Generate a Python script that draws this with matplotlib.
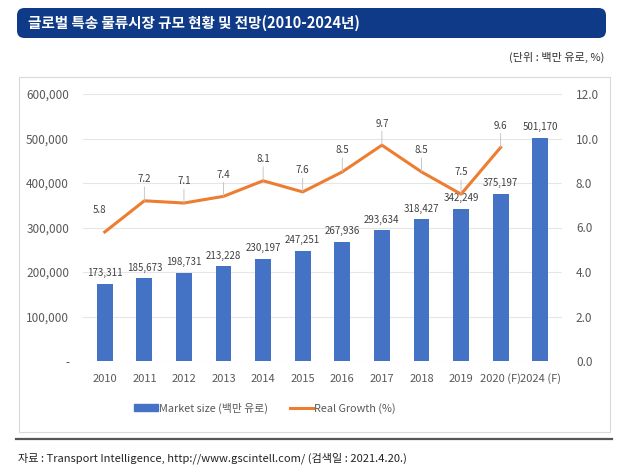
import matplotlib
matplotlib.use("Agg")
import matplotlib.pyplot as plt
from matplotlib.patches import FancyBboxPatch, Rectangle
from matplotlib.lines import Line2D

plt.rcParams['font.family'] = ['Noto Sans CJK KR', 'DejaVu Sans']

years = ['2010', '2011', '2012', '2013', '2014', '2015', '2016', '2017',
         '2018', '2019', '2020 (F)', '2024 (F)']
market_size = [173311, 185673, 198731, 213228, 230197, 247251, 267936,
               293634, 318427, 342249, 375197, 501170]
growth = [5.8, 7.2, 7.1, 7.4, 8.1, 7.6, 8.5, 9.7, 8.5, 7.5, 9.6]
left_ticks = [0, 100000, 200000, 300000, 400000, 500000, 600000]
left_labels = ['-', '100,000', '200,000', '300,000', '400,000', '500,000', '600,000']
right_ticks = [0, 2, 4, 6, 8, 10, 12]

title = '글로벌 특송 물류시장 규모 현황 및 전망(2010-2024년)'
unit = '(단위 : 백만 유로, %)'
source = '자료 : Transport Intelligence, http://www.gscintell.com/ (검색일 : 2021.4.20.)'

W, H = 619, 474
fig = plt.figure(figsize=(W / 100, H / 100), dpi=100)
fig.patch.set_facecolor('white')

def fx(px):
    return px / W

def fy(py):
    return 1 - py / H

# title bar
bar = FancyBboxPatch((fx(17), fy(38)), fx(606) - fx(17), fy(8) - fy(38),
                     boxstyle="round,pad=0,rounding_size=0.012",
                     transform=fig.transFigure, facecolor='#0F3A87',
                     edgecolor='none', zorder=-5, mutation_aspect=W / H)
fig.patches.append(bar)
fig.text(fx(28), fy(23), title, color='white', fontsize=10.5, fontweight='bold',
         va='center', ha='left')

fig.text(fx(604), fy(57), unit, color='#333333', fontsize=8, va='center', ha='right')

# chart frame
frame = Rectangle((fx(19), fy(432)), fx(610) - fx(19), fy(77) - fy(432),
                  transform=fig.transFigure, facecolor='white',
                  edgecolor='#D9D9D9', linewidth=0.8, zorder=-5)
fig.patches.append(frame)

# source line & text
fig.add_artist(Line2D([fx(16), fx(612)], [fy(439), fy(439)], transform=fig.transFigure,
                      color='#555555', linewidth=1.6))
fig.text(fx(18), fy(458), source, color='#222222', fontsize=8, va='center', ha='left')

ax = fig.add_axes([fx(83), fy(361), fx(562) - fx(83), fy(94) - fy(361)])
ax.set_zorder(2)
ax.set_facecolor('none')
x = list(range(len(years)))
ax.bar(x, market_size, width=0.4, color='#4472C4', zorder=2)
ax.set_ylim(0, 600000)
ax.set_xlim(-0.55, len(years) - 0.45)
ax.set_yticks(left_ticks)
ax.set_yticklabels(left_labels)
ax.set_xticks(x)
ax.set_xticklabels(years)
ax.grid(axis='y', color='#E6E6E6', linewidth=0.8, zorder=0)
ax.set_axisbelow(True)
for s in ax.spines.values():
    s.set_visible(False)
ax.tick_params(axis='both', length=0, colors='#595959', labelsize=8.5)
ax.tick_params(axis='x', pad=9, labelsize=8)
ax.tick_params(axis='y', pad=10)

for xi, v in zip(x, market_size):
    ax.annotate(f'{v:,}', (xi, v), xytext=(0, 4), textcoords='offset points',
                ha='center', va='bottom', fontsize=7, color='#404040', zorder=5)

ax2 = ax.twinx()
ax2.set_ylim(0, 12)
ax2.set_yticks(right_ticks)
ax2.set_yticklabels([f'{t:.1f}' for t in right_ticks])
for s in ax2.spines.values():
    s.set_visible(False)
ax2.tick_params(axis='y', length=0, colors='#595959', labelsize=8.5, pad=10)
ax2.plot(x[:len(growth)], growth, color='#ED7D31', linewidth=2.2, zorder=3)

for i, g in enumerate(growth):
    if i == 0:
        ax2.annotate(f'{g}', (i, g), xytext=(-4, 12), textcoords='offset points',
                     ha='center', va='bottom', fontsize=7, color='#404040')
    else:
        ax2.annotate(f'{g}', (i, g), xytext=(0, 12), textcoords='offset points',
                     ha='center', va='bottom', fontsize=7, color='#404040',
                     arrowprops=dict(arrowstyle='-', color='#BFBFBF', lw=0.6,
                                     shrinkA=0, shrinkB=0))

handles = [Rectangle((0, 0), 1, 1, color='#4472C4'),
           Line2D([0], [0], color='#ED7D31', linewidth=2.2)]
fig.legend(handles, ['Market size (백만 유로)', 'Real Growth (%)'],
           loc='center', bbox_to_anchor=(fx(265), fy(408)), ncol=2, frameon=False,
           fontsize=7.8, labelcolor='#595959', handlelength=2.2, handleheight=0.6,
           columnspacing=2.0, handletextpad=0.1)

fig.savefig('out.png', dpi=100)
